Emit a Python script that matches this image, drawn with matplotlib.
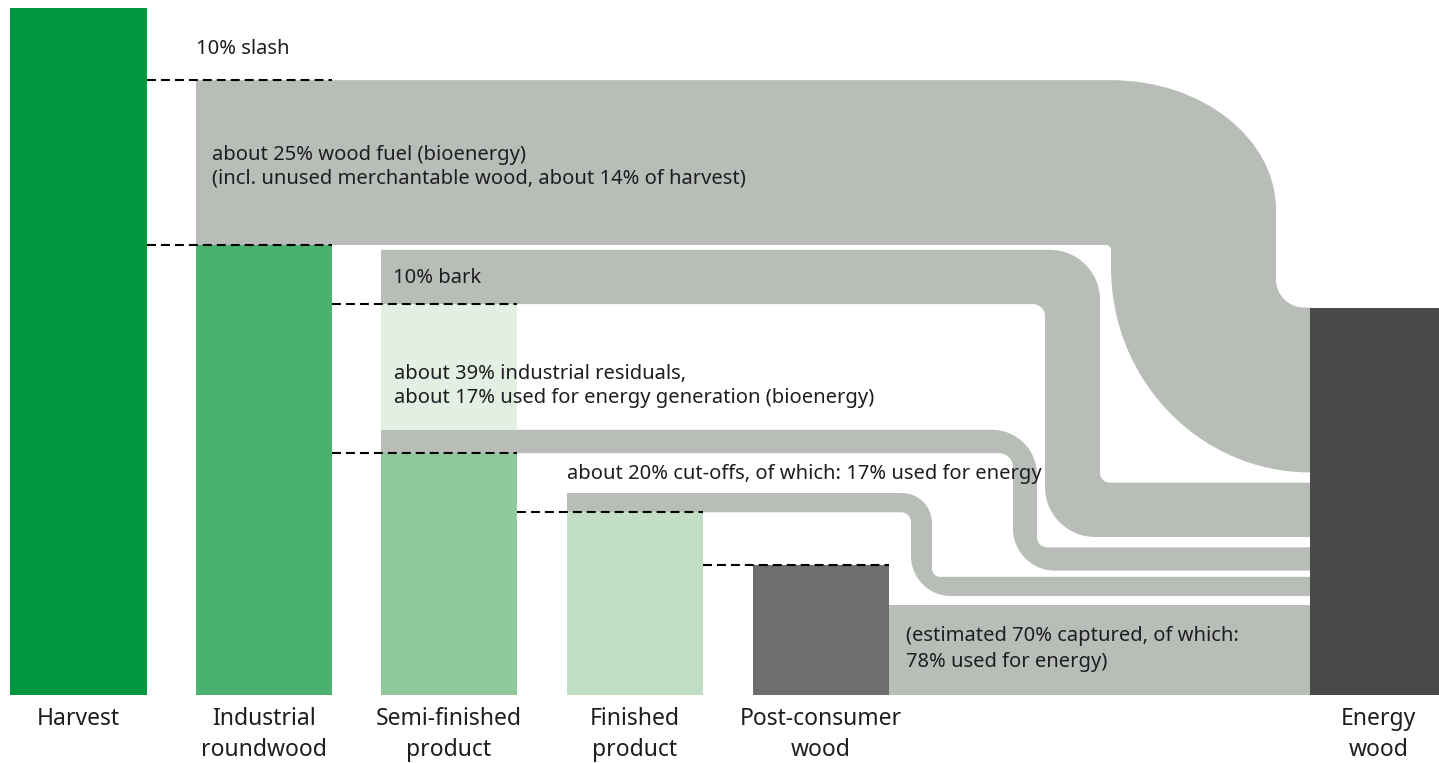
import matplotlib
matplotlib.use("Agg")
import matplotlib.pyplot as plt
from matplotlib.path import Path
from matplotlib.patches import PathPatch

# ---- data, in % of harvest ----
stages = ["Harvest", "Industrial\nroundwood", "Semi-finished\nproduct",
          "Finished\nproduct", "Post-consumer\nwood", "Energy\nwood"]
harvest = 100.0
slash = 10.5
wood_fuel = 24.0
roundwood = 65.5
bark = 8.6              # share of roundwood going to bark
bark_flow = 7.9         # drawn band (a little gap above it)
residuals = 21.7
residual_energy = 3.4
semi_product = 35.2
finished = 26.6
cutoff_energy = 2.8
post_consumer = 18.9
post_energy = 13.1

labels = {
    "slash": "10% slash",
    "fuel": "about 25% wood fuel (bioenergy)\n(incl. unused merchantable wood, about 14% of harvest)",
    "bark": "10% bark",
    "resid": "about 39% industrial residuals,\nabout 17% used for energy generation (bioenergy)",
    "cut": "about 20% cut-offs, of which: 17% used for energy",
    "post": "(estimated 70% captured, of which:\n78% used for energy)",
}

# ---- layout ----
W, H, DPI = 1439, 763, 100
U = 6.87                       # pixels per % unit
col_x = [10, 196, 381, 567, 753, 1310]
col_w = [137, 136, 136, 136, 136, 129]
E_X = col_x[5]
energy_gaps = [1.3, 0.9, 1.5, 1.5]   # between flows at the energy bar, bottom up

GRAY = "#b8beb7"
TXT = "#1e1e22"
K = 0.552

fig = plt.figure(figsize=(W / DPI, H / DPI), dpi=DPI)
ax = fig.add_axes([0, 0, 1, 1])
ax.set_xlim(0, W)
ax.set_ylim(-(H - 695) / U, 695 / U)
ax.axis("off")

plt.rcParams["font.family"] = ["Noto Sans", "DejaVu Sans"]


def rc(verts, codes, a, c, b):
    # rounded corner from a, around corner c, to b (cubic bezier)
    verts += [(a[0] + K * (c[0] - a[0]), a[1] + K * (c[1] - a[1])),
              (b[0] + K * (c[0] - b[0]), b[1] + K * (c[1] - b[1])), b]
    codes += [Path.CURVE4] * 3


def pair(r):
    return r if isinstance(r, tuple) else (r, r)


def elbow(x0, top, bot, xa, xb, top2, bot2, x1, R1, r1, R2, r2):
    R1x, R1y = pair(R1)
    R2x, R2y = pair(R2)
    v = [(x0, top), (xb - R1x, top)]
    c = [Path.MOVETO, Path.LINETO]
    rc(v, c, (xb - R1x, top), (xb, top), (xb, top - R1y / U))
    v.append((xb, top2 + r2 / U)); c.append(Path.LINETO)
    rc(v, c, (xb, top2 + r2 / U), (xb, top2), (xb + r2, top2))
    v += [(x1, top2), (x1, bot2), (xa + R2x, bot2)]
    c += [Path.LINETO] * 3
    rc(v, c, (xa + R2x, bot2), (xa, bot2), (xa, bot2 + R2y / U))
    v.append((xa, bot - r1 / U)); c.append(Path.LINETO)
    rc(v, c, (xa, bot - r1 / U), (xa, bot), (xa - r1, bot))
    v += [(x0, bot), (x0, top)]
    c += [Path.LINETO, Path.CLOSEPOLY]
    ax.add_patch(PathPatch(Path(v, c), facecolor=GRAY, edgecolor="none", zorder=1))


# stack at the energy bar, bottom up
e_post = (0, post_energy)
e_cut_b = e_post[1] + energy_gaps[0]
e_cut = (e_cut_b, e_cut_b + cutoff_energy)
e_res_b = e_cut[1] + energy_gaps[1]
e_res = (e_res_b, e_res_b + residual_energy)
e_bark_b = e_res[1] + energy_gaps[2]
e_bark = (e_bark_b, e_bark_b + bark_flow)
e_fuel_b = e_bark[1] + energy_gaps[3]
e_fuel = (e_fuel_b, e_fuel_b + wood_fuel)
energy_total = e_fuel[1]

semi_top = roundwood - bark
res_top = semi_product + residual_energy

# flows
elbow(col_x[1], harvest - slash, roundwood, 1111, 1276, e_fuel[1], e_fuel[0], E_X,
      (165, 130), 5, (199, 205), 28)
elbow(col_x[2], semi_top + bark_flow, semi_top, 1045, 1100, e_bark[1], e_bark[0], E_X,
      50, 12, 50, 10)
elbow(col_x[2], res_top, semi_product, 1013, 1037, e_res[1], e_res[0], E_X,
      45, 14, 42, 10)
elbow(col_x[3], finished + cutoff_energy, finished, 911, 932, e_cut[1], e_cut[0], E_X,
      30, 10, 40, 8)
ax.bar(col_x[4] + col_w[4], post_energy, width=E_X - col_x[4] - col_w[4], align="edge",
       color=GRAY, zorder=1)

# columns
ax.bar(col_x[0], harvest, width=col_w[0], align="edge", color="#00963f", zorder=2)
ax.bar(col_x[1], roundwood, width=col_w[1], align="edge", color="#4ab16f", zorder=2)
ax.bar(col_x[2], semi_product, width=col_w[2], align="edge", color="#8fc89a", zorder=2)
ax.bar(col_x[2], semi_top - res_top, bottom=res_top, width=col_w[2], align="edge",
       color="#e2efe2", zorder=2)
ax.bar(col_x[3], finished, width=col_w[3], align="edge", color="#c2dfc5", zorder=2)
ax.bar(col_x[4], post_consumer, width=col_w[4], align="edge", color="#6e6e6e", zorder=2)
ax.bar(col_x[5], energy_total, width=col_w[5], align="edge", color="#4a4a48", zorder=2)

# dashed guides
dash = dict(color="black", lw=1.5, ls=(0, (4.3, 2.4)), zorder=3)
r = lambda i: col_x[i] + col_w[i]
ax.plot([r(0), r(1)], [harvest - slash] * 2, **dash)
ax.plot([r(0), r(1)], [roundwood] * 2, **dash)
ax.plot([r(1), r(2)], [semi_top] * 2, **dash)
ax.plot([r(1), r(2)], [semi_product] * 2, **dash)
ax.plot([r(2), r(3)], [finished] * 2, **dash)
ax.plot([r(3), r(4)], [post_consumer] * 2, **dash)

# annotations
fs = 14.5
ax.text(col_x[1], harvest - slash / 2 - 0.7, labels["slash"], fontsize=fs, color=TXT, va="center")
ax.text(col_x[1] + 16, roundwood + wood_fuel / 2 - 0.6, labels["fuel"], fontsize=fs, color=TXT,
        va="center", linespacing=1.2)
ax.text(col_x[2] + 12, semi_top + bark_flow / 2 - 0.1, labels["bark"], fontsize=fs, color=TXT,
        va="center")
ax.text(col_x[2] + 13, semi_product + residuals / 2 - 1.1, labels["resid"], fontsize=fs, color=TXT,
        va="center", linespacing=1.25)
ax.text(col_x[3], (semi_product + finished + cutoff_energy) / 2 - 0.2, labels["cut"], fontsize=fs,
        color=TXT, va="center")
ax.text(r(4) + 17, post_energy / 2 + 0.1, labels["post"], fontsize=fs, color=TXT,
        va="center", linespacing=1.4)

for i, s in enumerate(stages):
    ax.text(col_x[i] + col_w[i] / 2 + (4 if i == 5 else 0), -1.8, s, fontsize=16.5, color=TXT,
            ha="center", va="top", linespacing=1.35)

fig.savefig("out.png", dpi=DPI)
